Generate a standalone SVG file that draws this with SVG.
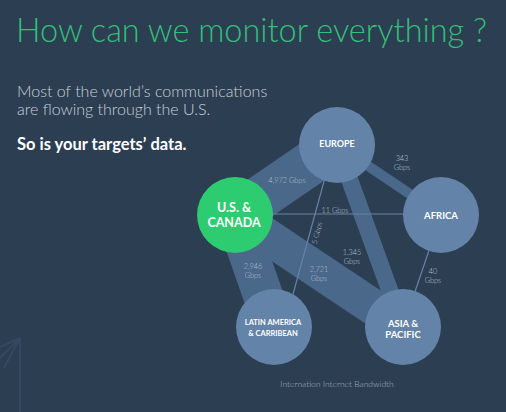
<svg xmlns="http://www.w3.org/2000/svg" width="506" height="412" viewBox="0 0 506 412">
<style>
.bg{fill:#2c3e52}
.band{stroke:#4a6889;fill:none;stroke-linecap:butt}
.thin{stroke:#6583a6;stroke-width:1.2;fill:none}
.node{fill:#6384a8}
.us{fill:#2ecc71}
.nl{font-family:Lato,"Liberation Sans",sans-serif;font-weight:bold;fill:#ffffff;text-anchor:middle}
.el{font-family:Lato,"Liberation Sans",sans-serif;font-weight:300;fill:#b4c2d2;font-size:7.3px;text-anchor:middle}
.deco{stroke:#34495f;stroke-width:2;fill:none}
</style>
<rect class="bg" x="0" y="0" width="506" height="412"/>
<g id="decoration">
<line class="deco" x1="20" y1="338" x2="20" y2="412"/>
<line class="deco" x1="20" y1="338" x2="0" y2="347"/>
<line class="deco" x1="20" y1="338" x2="0" y2="358"/>
<line class="deco" x1="20" y1="338" x2="4" y2="368"/>
</g>
<text x="16" y="42" font-family="Lato,'Liberation Sans',sans-serif" font-weight="300" font-size="33" fill="#34bf78" textLength="471" lengthAdjust="spacingAndGlyphs">How can we monitor everything ?</text>
<text font-family="Lato,'Liberation Sans',sans-serif" font-weight="300" font-size="16" fill="#c9d0d9"><tspan x="17" y="97">Most of the world’s communications</tspan><tspan x="17" y="115">are flowing through the U.S.</tspan></text>
<text x="17" y="150" font-family="Lato,'Liberation Sans',sans-serif" font-weight="bold" font-size="16.5" fill="#ffffff">So is your targets’ data.</text>
<g id="connectors">
<line class="band" x1="235" y1="215" x2="337" y2="145" stroke-width="44"/>
<line class="band" x1="235" y1="215" x2="274" y2="327" stroke-width="40"/>
<line class="band" x1="235" y1="215" x2="403" y2="327" stroke-width="36"/>
<line class="band" x1="337" y1="145" x2="403" y2="327" stroke-width="17"/>
<line class="band" x1="337" y1="145" x2="441" y2="215" stroke-width="10"/>
<line class="thin" x1="235" y1="214" x2="441" y2="214"/>
<line class="thin" x1="334" y1="145" x2="284" y2="327"/>
<line class="thin" x1="441" y1="215" x2="403" y2="327"/>
<text class="el" x="287" y="183">4,972 Gbps</text>
<text class="el" x="402" y="161">343</text>
<text class="el" x="402" y="170">Gbps</text>
<text class="el" x="335" y="213">11 Gbps</text>
<text class="el" transform="translate(317,233) rotate(-74.5)" y="2.5">5 Gbps</text>
<text class="el" x="352" y="255">1,345</text>
<text class="el" x="352" y="264">Gbps</text>
<text class="el" x="319" y="272">2,721</text>
<text class="el" x="319" y="281">Gbps</text>
<text class="el" x="253" y="269">2,946</text>
<text class="el" x="253" y="278">Gbps</text>
<text class="el" x="433" y="274">40</text>
<text class="el" x="433" y="283">Gbps</text>
</g>
<g id="europe">
<circle class="node" cx="337" cy="145" r="38"/>
<text class="nl" x="337" y="147" font-size="9">EUROPE</text>
</g>
<g id="africa">
<circle class="node" cx="441" cy="215" r="38"/>
<text class="nl" x="441" y="219" font-size="9.5">AFRICA</text>
</g>
<g id="us-canada">
<circle class="us" cx="235" cy="215" r="38"/>
<text class="nl" x="234" y="212" font-size="12.5">U.S. &amp;</text>
<text class="nl" x="234" y="227" font-size="12.5">CANADA</text>
</g>
<g id="latin-america">
<circle class="node" cx="274" cy="327" r="38"/>
<text class="nl" x="273" y="325" font-size="7.5">LATIN AMERICA</text>
<text class="nl" x="273" y="336" font-size="7.5">&amp; CARRIBEAN</text>
</g>
<g id="asia-pacific">
<circle class="node" cx="403" cy="327" r="38"/>
<text class="nl" x="403" y="327" font-size="9.5">ASIA &amp;</text>
<text class="nl" x="403" y="338" font-size="9.5">PACIFIC</text>
</g>
<text x="337" y="387" font-family="Lato,'Liberation Sans',sans-serif" font-weight="300" font-size="8.5" fill="#a9b6c6" text-anchor="middle">Internation Internet Bandwidth</text>
</svg>
